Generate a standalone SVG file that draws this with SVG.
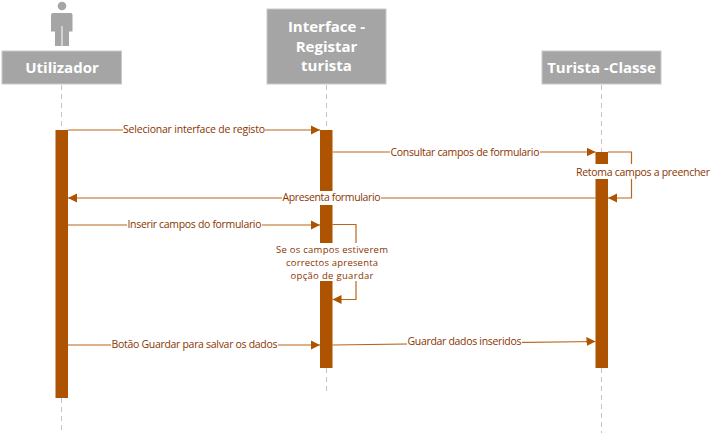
<svg xmlns="http://www.w3.org/2000/svg" width="716" height="435" viewBox="0 0 716 435">
<style>
text{font-family:"Open Sans","Noto Sans","Liberation Sans",sans-serif}
.hd{fill:#a5a5a5;stroke:#c9c9c9;stroke-width:1}
.ht{fill:#fff;font-size:15px;font-weight:700;text-anchor:middle}
.life{stroke:#c4c4c4;stroke-width:1;stroke-dasharray:5 4;fill:none}
.bar{fill:#ae5300}
.msg{stroke:#b9661c;stroke-width:1.2;fill:none}
.lb{fill:#8a3500;font-size:10.5px;text-anchor:middle}
.lb2{fill:#8a3500;font-size:9.5px;text-anchor:middle}
.lbg{fill:#fff}
</style>
<defs>
<marker id="ah" markerUnits="userSpaceOnUse" markerWidth="10" markerHeight="10" refX="9" refY="5" orient="auto"><path d="M0 0.5L9 5L0 9.5Z" fill="#ae5300"/></marker>
</defs>
<g id="lifelines">
<path class="life" d="M61.5 85V130M61.5 398V433"/>
<path class="life" d="M326.5 85V130M326.5 368V392"/>
<path class="life" d="M601.5 85V152M601.5 368V433"/>
</g>
<g id="node-utilizador">
<circle cx="62" cy="6" r="4.3" fill="#a5a5a5"/>
<path d="M53 13H71Q72.500 13 72.500 15V31.500H69V46H62.500V26H61.500V46H55V31.500H51V15Q51 13 53 13Z" fill="#a5a5a5"/>
<rect class="hd" x="2" y="51" width="119.500" height="33"/>
<text class="ht" x="62" y="73">Utilizador</text>
<rect class="bar" x="55.500" y="130" width="12.500" height="268"/>
</g>
<g id="node-interface">
<rect class="hd" x="267" y="9" width="119" height="75"/>
<text class="ht" x="326.500" y="32">Interface -</text>
<text class="ht" x="326.500" y="51.500">Registar</text>
<text class="ht" x="326.500" y="71">turista</text>
<rect class="bar" x="320" y="130" width="12.500" height="238"/>
</g>
<g id="node-turista">
<rect class="hd" x="542" y="51" width="119" height="33"/>
<text class="ht" x="601.500" y="73">Turista -Classe</text>
<rect class="bar" x="595.500" y="152" width="12.500" height="216"/>
</g>
<g id="connectors">
<path class="msg" d="M68 130H320" marker-end="url(#ah)"/>
<path class="msg" d="M332.500 152H595.500" marker-end="url(#ah)"/>
<path class="msg" d="M608 152H631.500V198H608" marker-end="url(#ah)"/>
<path class="msg" d="M595.500 198H68" marker-end="url(#ah)"/>
<path class="msg" d="M68 225H320" marker-end="url(#ah)"/>
<path class="msg" d="M332.500 224.500H356V299.500H332.500" marker-end="url(#ah)"/>
<path class="msg" d="M68 345H320" marker-end="url(#ah)"/>
<path class="msg" d="M332.500 345L595.500 341.500" marker-end="url(#ah)"/>
</g>
<g id="labels">
<rect class="lbg" x="123" y="123" width="142" height="14"/>
<text class="lb" x="194" y="133" textLength="142">Selecionar interface de registo</text>
<rect class="lbg" x="390" y="145" width="150" height="14"/>
<text class="lb" x="465" y="156" textLength="149">Consultar campos de formulario</text>
<rect class="lbg" x="575" y="164" width="136" height="15"/>
<text class="lb" x="643" y="176" textLength="134">Retoma campos a preencher</text>
<rect class="lbg" x="282" y="191" width="99" height="14"/>
<text class="lb" x="331.500" y="201" textLength="98">Apresenta formulario</text>
<rect class="lbg" x="127" y="218" width="135" height="14"/>
<text class="lb" x="194.500" y="228" textLength="134">Inserir campos do formulario</text>
<rect class="lbg" x="272" y="243" width="118" height="38"/>
<text class="lb2" x="332" y="252.500" textLength="112">Se os campos estiverem</text>
<text class="lb2" x="332" y="265.500" textLength="92">correctos apresenta</text>
<text class="lb2" x="332" y="278.500" textLength="83">opção de guardar</text>
<rect class="lbg" x="111" y="338" width="167" height="14"/>
<text class="lb" x="194.500" y="348" textLength="166">Botão Guardar para salvar os dados</text>
<rect class="lbg" x="407" y="335" width="115" height="14"/>
<text class="lb" x="464.500" y="345" textLength="114">Guardar dados inseridos</text>
</g>
</svg>
